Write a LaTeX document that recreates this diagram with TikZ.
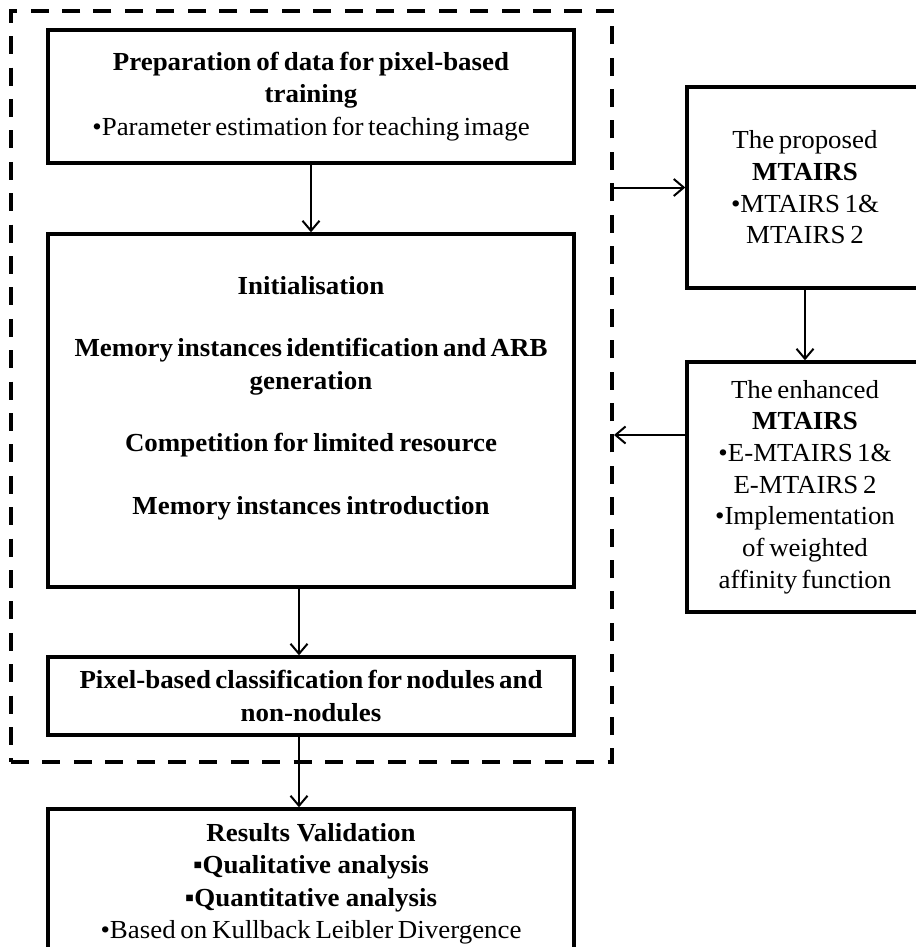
\documentclass[tikz,border=0pt]{standalone}
\usepackage{fontspec}
\setmainfont{Liberation Serif}[FakeStretch=1.035]
\usetikzlibrary{arrows.meta}
\newcommand{\boxfont}[1]{\fontsize{26}{#1}\selectfont}
\begin{document}
\begin{tikzpicture}[x=1pt,y=-1pt,
  every node/.style={execute at begin node={\spaceskip=3.8pt plus 1pt minus 1pt\relax}},
  box/.style={draw=black,line width=3.4pt,rectangle,inner sep=0pt,align=center,
    font=\boxfont{32.5}},
  sidebox/.style={box,font=\boxfont{31.7}},
  plain/.style={inner sep=0pt,align=center,font=\boxfont{32.5}},
  arr/.style={line width=2pt,-{Straight Barb[length=10pt,width=17pt,line width=2pt]}},
  grp/.style={draw=black,line width=4pt,dash pattern=on 18pt off 13.4pt,rectangle,inner sep=0pt}]
\useasboundingbox (0,0) rectangle (915,947);
\fill[white] (0,0) rectangle (915,947);

\node[grp,minimum width=601pt,minimum height=751pt] (group) at (311.5,386.5) {};

\node[box,minimum width=526pt,minimum height=133pt,text width=520pt] (prep) at (311,96.5)
  {\textbf{Preparation of data for pixel-based}\\\textbf{training}\\•Parameter estimation for teaching image};

\node[box,minimum width=526pt,minimum height=353pt] (mid) at (311,410.5) {};
\node[plain,text width=520pt] (midtext) at (311,398)
  {\textbf{Initialisation}\\[30pt]
   \textbf{Memory instances identification and ARB}\\\textbf{generation}\\[30pt]
   \textbf{Competition for limited resource}\\[30pt]
   \textbf{Memory instances introduction}};

\node[box,minimum width=526pt,minimum height=78pt,text width=520pt] (pix) at (311,696)
  {\textbf{Pixel-based classification for nodules and}\\\textbf{non-nodules}};

\node[box,minimum width=526pt,minimum height=150pt,text width=520pt] (res) at (311,884)
  {\textbf{Results Validation}\\\textbf{▪Qualitative analysis}\\\textbf{▪Quantitative analysis}\\•Based on Kullback Leibler Divergence};

\node[sidebox,minimum width=236pt,minimum height=201pt,text width=230pt] (prop) at (805,187.5)
  {The proposed\\\textbf{MTAIRS}\\•MTAIRS 1\&\\MTAIRS 2};

\node[sidebox,minimum width=236pt,minimum height=250pt,text width=230pt] (enh) at (805,487)
  {The enhanced\\\textbf{MTAIRS}\\•E-MTAIRS 1\&\\E-MTAIRS 2\\•Implementation\\of weighted\\affinity function};

\draw[arr] (prep.south) -- (mid.north);
\draw[arr] ([xshift=-12pt]mid.south) -- ([xshift=-12pt]pix.north);
\draw[arr] ([xshift=-12pt]pix.south) -- ([xshift=-12pt]res.north);
\draw[arr] (prop.west -| group.east) -- (prop.west);
\draw[arr] (prop.south) -- (enh.north);
\coordinate (enhout) at ([yshift=52pt]enh.west);
\draw[arr] (enhout) -- (enhout -| group.east);
\end{tikzpicture}
\end{document}
